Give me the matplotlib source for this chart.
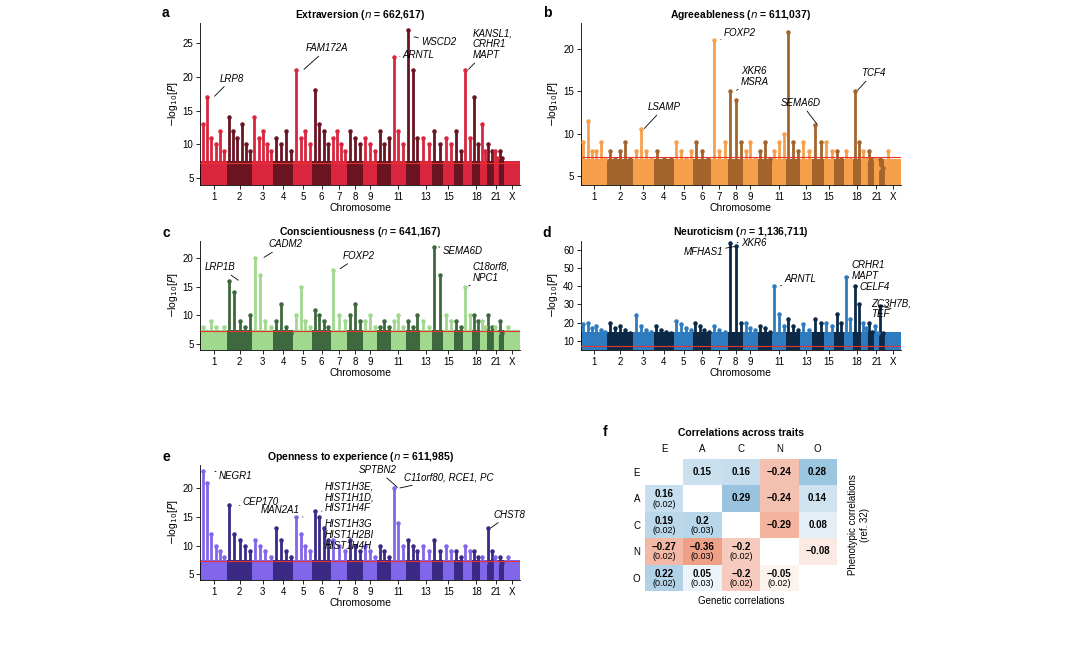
import numpy as np
import matplotlib.pyplot as plt
from matplotlib.colors import LinearSegmentedColormap

plt.rcParams['font.family'] = ['Liberation Sans', 'DejaVu Sans']
plt.rcParams['font.size'] = 7

chrom_len = [249, 243, 198, 191, 181, 171, 159, 145, 138, 134, 135, 133,
             114, 107, 102, 90, 83, 80, 59, 64, 47, 51, 156]
chrom_ticks = ['1', '2', '3', '4', '5', '6', '7', '8', '9', '11', '13', '15', '18', '21', 'X']
tick_chroms = [1, 2, 3, 4, 5, 6, 7, 8, 9, 11, 13, 15, 18, 21, 23]

# peak heights (-log10 P) read per chromosome, left to right
extra = [[13, 17, 11, 10, 12, 9], [14, 12, 11, 13, 10, 9], [14, 11, 12, 10, 9], [11, 10, 12, 9],
         [21, 11, 12, 10], [18, 13, 12, 10], [11, 12, 10, 9], [12, 11, 10], [11, 10, 9],
         [12, 10, 11], [23, 12, 10], [27, 21, 11], [11, 10], [12, 10], [11, 10], [12, 9],
         [21, 11], [17, 10], [13, 9], [10, 9], [9, 8], [9, 8], [7, 6]]
agree = [[9, 11.5, 8, 8, 9, 7], [8, 7, 8, 9, 7], [8, 10.5, 8, 7], [8, 7, 7], [9, 8, 7, 8], [9, 8, 7],
         [21, 8, 9], [15, 14, 9], [8, 9, 7], [8, 9, 7], [8, 9, 10], [22, 9, 8], [9, 8],
         [11, 9], [9, 8], [8, 7], [8, 7], [15, 9], [8, 7], [8, 7], [7, 6], [7, 6], [8, 6]]
consc = [[8, 7, 9, 8, 7, 8], [16, 14, 9, 8, 10], [20, 17, 9, 8], [9, 12, 8, 7], [10, 15, 9, 8],
         [11, 10, 9, 8], [18, 10, 9], [10, 12, 9], [9, 10, 8], [8, 9, 8], [9, 10, 8], [9, 8, 10],
         [9, 8], [22, 17], [10, 9], [9, 8], [15, 10], [10, 9], [9, 8], [10, 8], [8, 7], [9, 7], [8, 7]]
neuro = [[19, 20, 17, 18, 16, 15], [20, 17, 18, 16, 14], [24, 18, 16, 15], [18, 16, 15, 14],
         [21, 19, 17, 16], [20, 18, 16, 15], [18, 16, 15], [64, 62, 20], [20, 17, 16],
         [18, 17, 15], [40, 25, 18], [22, 18, 16], [19, 16], [22, 20], [20, 18], [25, 20],
         [45, 22], [40, 30], [20, 17], [20, 15], [18, 14], [29, 14], [10, 8]]
openn = [[23, 21, 12, 10, 9, 8], [17, 12, 11, 10, 9], [11, 10, 9, 8], [13, 11, 9, 8], [15, 12, 10, 9],
         [16, 15, 13, 11], [11, 10, 9], [11, 10, 9], [10, 9, 8], [10, 9, 8], [20, 14, 10], [11, 10, 9],
         [10, 9], [11, 9], [10, 9], [9, 8], [10, 9], [9, 8], [8, 7], [13, 9], [8, 7], [8, 7], [8, 7]]

# gene labels: (chromosome, text, peak height, text x offset in Mb, text y, alignment)
panels = [
    dict(key='a', title='Extraversion', n='662,617', data=extra, light='#d9263e', dark='#6b1421',
         ylim=(4, 28), yticks=[5, 10, 15, 20, 25], base=7.5, ax=[0.188, 0.72, 0.30, 0.245],
         genes=[(1, 'LRP8', 17, 60, 19, 'left'), (5, 'FAM172A', 21, 30, 23.5, 'left'),
                (11, 'ARNTL', 23, 40, 22.5, 'left'), (12, 'WSCD2', 26, 80, 24.5, 'left'),
                (17, 'KANSL1,\nCRHR1\nMAPT', 21, 50, 22.5, 'left')]),
    dict(key='b', title='Agreeableness', n='611,037', data=agree, light='#f7a04c', dark='#a3652c',
         ylim=(4, 23), yticks=[5, 10, 15, 20], base=7, ax=[0.545, 0.72, 0.30, 0.245],
         genes=[(3, 'LSAMP', 10.5, 40, 12.5, 'left'), (7, 'FOXP2', 21, 40, 21.3, 'left'),
                (8, 'XKR6\nMSRA', 15, 50, 15.5, 'left'), (14, 'SEMA6D', 11, 30, 13, 'right'),
                (18, 'TCF4', 15, 40, 16.5, 'left')]),
    dict(key='c', title='Conscientiousness', n='641,167', data=consc, light='#a0d98e', dark='#3e693e',
         ylim=(4, 23), yticks=[5, 10, 15, 20], base=7.5, ax=[0.188, 0.47, 0.30, 0.165],
         genes=[(2, 'LRP1B', 16, -40, 17.5, 'right'), (3, 'CADM2', 20, 50, 21.5, 'left'),
                (7, 'FOXP2', 18, 40, 19.5, 'left'), (14, 'SEMA6D', 22, 50, 20.3, 'left'),
                (17, 'C18orf8,\nNPC1', 15, 50, 15.7, 'left')]),
    dict(key='d', title='Neuroticism', n='1,136,711', data=neuro, light='#2e7bbf', dark='#0c2a48',
         ylim=(5, 65), yticks=[10, 20, 30, 40, 50, 60], base=15, ax=[0.545, 0.47, 0.30, 0.165],
         genes=[(8, 'MFHAS1', 62, -120, 56, 'right'), (8, 'XKR6', 64, 50, 61, 'left'),
                (11, 'ARNTL', 40, 50, 41, 'left'), (17, 'CRHR1\nMAPT', 45, 30, 43, 'left'),
                (18, 'CELF4', 40, 30, 37, 'left'), (22, 'ZC3H7B,\nTEF', 29, -100, 22, 'left')]),
    dict(key='e', title='Openness to experience', n='611,985', data=openn, light='#8266ea', dark='#3a2a86',
         ylim=(4, 24), yticks=[5, 10, 15, 20], base=7.5, ax=[0.188, 0.121, 0.30, 0.174],
         genes=[(1, 'NEGR1', 23, 50, 21.3, 'left'), (2, 'CEP170', 17, 30, 16.8, 'left'),
                (5, 'MAN2A1', 15, -30, 15.3, 'right'),
                (6, 'HIST1H3E,\nHIST1H1D,\nHIST1H4F', 16, 30, 15.7, 'left'),
                (11, 'SPTBN2', 20, -15, 22.3, 'right'), (11, 'C11orf80, RCE1, PC', 20, 50, 21, 'left'),
                (20, 'CHST8', 13, 30, 14.5, 'left')]),
]

lens = np.array(chrom_len, dtype=float)
starts = np.concatenate([[0], np.cumsum(lens)[:-1]])
centers = starts + lens / 2
total = lens.sum()

fig = plt.figure(figsize=(10.66, 6.6), dpi=100)

axes = {}
for p in panels:
    ax = fig.add_axes(p['ax'])
    axes[p['key']] = ax
    lo = p['ylim'][0]
    for i, peaks in enumerate(p['data']):
        col = p['light'] if i % 2 == 0 else p['dark']
        ax.bar(centers[i], p['base'] - lo, width=lens[i], bottom=lo, color=col, linewidth=0)
        xs = starts[i] + lens[i] * (np.arange(len(peaks)) + 0.5) / len(peaks)
        ax.vlines(xs, lo, peaks, color=col, lw=2.0)
        ax.scatter(xs, peaks, s=5, color=col, zorder=3)
    ax.axhline(7.3, color='#e8322d', lw=0.8, zorder=4)
    for chrom, label, h, dx, ty, ha in p['genes']:
        x0 = centers[chrom - 1]
        ax.annotate(label, xy=(x0, h), xytext=(x0 + dx, ty), fontsize=7, style='italic',
                    ha=ha, va='bottom', linespacing=1.1,
                    arrowprops=dict(arrowstyle='-', lw=0.6, color='black', shrinkA=0, shrinkB=1))
    ax.set_xlim(0, total)
    ax.set_ylim(*p['ylim'])
    ax.set_yticks(p['yticks'])
    ax.set_xticks([centers[c - 1] for c in tick_chroms])
    ax.set_xticklabels(chrom_ticks)
    ax.tick_params(labelsize=7, length=3, width=0.6, pad=2)
    ax.set_xlabel('Chromosome', fontsize=7.5, labelpad=1)
    ax.set_ylabel('$-$log$_{10}$[$P$]', fontsize=7.5, labelpad=2)
    for s in ['top', 'right']:
        ax.spines[s].set_visible(False)
    for s in ['left', 'bottom']:
        ax.spines[s].set_linewidth(0.6)
    ax.set_title(p['title'] + ' ($n$ = ' + p['n'] + ')', fontsize=7.5, fontweight='bold', pad=4)
    ax.text(-0.12, 1.04, p['key'], transform=ax.transAxes, fontsize=10, fontweight='bold')

# second HIST block in panel e, plain text under the first one
axes['e'].text(centers[5] + 30, 14.6, 'HIST1H3G\nHIST1H2BI\nHIST1H4H', fontsize=7, style='italic',
               va='top', linespacing=1.1)

# panel f correlations
traits = ['E', 'A', 'C', 'N', 'O']
pheno = {(0, 1): 0.15, (0, 2): 0.16, (0, 3): -0.24, (0, 4): 0.28, (1, 2): 0.29, (1, 3): -0.24,
         (1, 4): 0.14, (2, 3): -0.29, (2, 4): 0.08, (3, 4): -0.08}
gen = {(1, 0): (0.16, 0.02), (2, 0): (0.19, 0.02), (2, 1): (0.2, 0.03), (3, 0): (-0.27, 0.02),
       (3, 1): (-0.36, 0.03), (3, 2): (-0.2, 0.02), (4, 0): (0.22, 0.02), (4, 1): (0.05, 0.03),
       (4, 2): (-0.2, 0.02), (4, 3): (-0.05, 0.02)}

cmap = LinearSegmentedColormap.from_list('rb', ['#e8704a', '#ffffff', '#3f8fc4'])
axf = fig.add_axes([0.605, 0.105, 0.18, 0.2])
mat = np.full((5, 5), np.nan)
for (r, c), v in pheno.items():
    mat[r, c] = v
for (r, c), (v, se) in gen.items():
    mat[r, c] = v
axf.imshow(mat, cmap=cmap, vmin=-0.55, vmax=0.55, aspect='auto')
for (r, c), v in pheno.items():
    axf.text(c, r, f'{v:g}'.replace('-', '\u2212'), ha='center', va='center', fontsize=7, fontweight='bold')
for (r, c), (v, se) in gen.items():
    axf.text(c, r - 0.15, f'{v:g}'.replace('-', '\u2212'), ha='center', va='center', fontsize=7, fontweight='bold')
    axf.text(c, r + 0.22, f'({se:.2f})', ha='center', va='center', fontsize=6.5)
axf.set_xticks(range(5))
axf.set_xticklabels(traits)
axf.set_yticks(range(5))
axf.set_yticklabels(traits)
axf.xaxis.tick_top()
axf.tick_params(length=0, labelsize=7)
for s in axf.spines.values():
    s.set_visible(False)
axf.set_xlabel('Genetic correlations', fontsize=7)
axf.yaxis.set_label_position('right')
axf.set_ylabel('Phenotypic correlations\n(ref. 32)', fontsize=7, labelpad=8)
axf.set_title('Correlations across traits', fontsize=7.5, fontweight='bold', pad=16)
axf.text(-0.22, 1.17, 'f', transform=axf.transAxes, fontsize=10, fontweight='bold')

fig.savefig('out.png', dpi=100, facecolor='white')
